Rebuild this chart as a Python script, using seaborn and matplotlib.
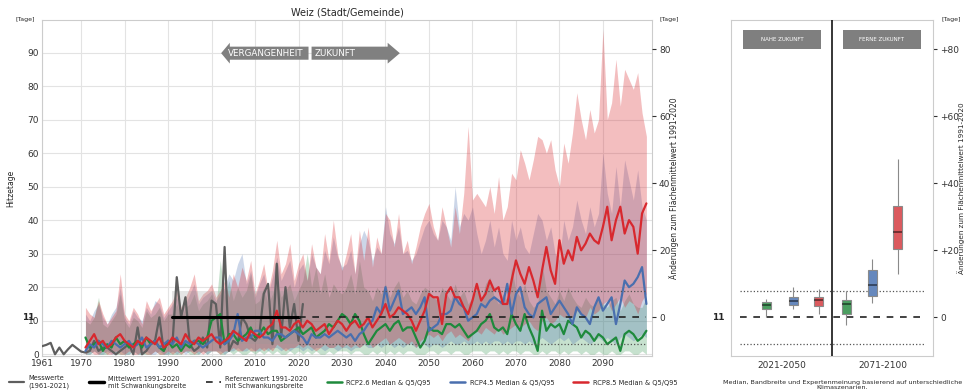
import numpy as np
import pandas as pd
import matplotlib
matplotlib.use('Agg')
from matplotlib import pyplot as plt
from matplotlib.lines import Line2D
from matplotlib.patches import FancyArrow, Rectangle
import matplotlib.transforms as mtransforms
import seaborn as sns

# ---- data -----------------------------------------------------------------
obs_years = list(range(1961, 2022))
obs = [2.4, 2.8, 3.4, 0, 2, 0, 1.5, 2.8, 1.8, 0.8,
       0.5, 1, 4, 1, 2, 2, 1, 0, 1, 2,
       3, 0, 8, 0, 1, 3, 4, 11, 1, 4,
       3, 23, 11, 17, 3, 1, 2, 5, 2, 16,
       15, 2, 32, 1, 4, 3, 11, 9, 5, 4,
       6, 18, 21, 3, 27, 5, 20, 8, 15, 4,
       15]

years = list(range(1971, 2101))

rcp26_med = [5, 2, 3, 4, 1, 3, 2, 5, 3, 4,
             2, 3, 4, 2, 5, 3, 4, 2, 1, 4,
             2, 3, 1, 3, 2, 4, 4, 3, 5, 10,
             11, 12, 3, 6, 6, 4, 5, 6, 8, 5,
             6, 8, 6, 7, 7, 4, 5, 6, 7, 8,
             6, 7, 8, 5, 6, 7, 9, 8, 10, 12,
             11, 9, 12, 10, 6, 3, 5, 7, 8, 9,
             7, 9, 10, 7, 8, 8, 5, 2, 4, 8,
             7, 7, 6, 9, 9, 8, 9, 7, 5, 6,
             7, 9, 10, 12, 8, 7, 8, 6, 12, 9,
             7, 12, 8, 5, 1, 13, 7, 9, 8, 9,
             6, 10, 9, 8, 5, 7, 6, 4, 6, 5,
             3, 4, 5, 1, 6, 7, 6, 4, 5, 7]
rcp26_q5 = [0, 0, 1, 0, 0, 0, 1, 0, 0, 0,
            0, 1, 0, 0, 0, 0, 1, 0, 0, 0,
            0, 0, 0, 1, 0, 0, 0, 1, 0, 1,
            1, 0, 0, 1, 0, 1, 0, 0, 1, 0,
            1, 0, 1, 0, 1, 0, 0, 1, 0, 1,
            0, 1, 0, 1, 0, 0, 1, 0, 1, 1,
            1, 0, 1, 1, 0, 0, 1, 0, 1, 0,
            1, 0, 1, 0, 1, 1, 0, 0, 0, 1,
            1, 0, 1, 1, 0, 1, 1, 0, 0, 1,
            1, 1, 0, 1, 1, 0, 1, 0, 1, 1,
            0, 1, 1, 0, 0, 1, 0, 1, 1, 0,
            1, 0, 1, 1, 0, 1, 0, 0, 1, 0,
            0, 1, 0, 0, 1, 1, 0, 0, 1, 0]
rcp26_q95 = [10, 9, 11, 17, 9, 8, 10, 12, 18, 10,
             8, 11, 10, 8, 13, 11, 12, 14, 10, 12,
             12, 15, 11, 14, 15, 18, 13, 15, 16, 18,
             14, 28, 17, 22, 16, 20, 17, 19, 24, 15,
             16, 20, 15, 18, 22, 17, 19, 21, 16, 19,
             22, 30, 20, 26, 18, 24, 17, 21, 19, 18,
             20, 24, 18, 28, 20, 19, 16, 20, 18, 21,
             17, 20, 22, 17, 19, 16, 15, 18, 20, 19,
             17, 16, 20, 18, 16, 21, 17, 19, 15, 17,
             19, 16, 21, 23, 17, 15, 18, 16, 26, 19,
             17, 21, 16, 14, 15, 27, 19, 17, 15, 19,
             16, 20, 17, 15, 14, 17, 15, 14, 17, 15,
             14, 16, 17, 13, 16, 18, 15, 14, 14, 17]

rcp45_med = [1, 3, 2, 4, 3, 2, 4, 3, 2, 3,
             4, 2, 3, 5, 2, 3, 4, 2, 3, 4,
             3, 5, 2, 4, 3, 4, 3, 2, 3, 4,
             5, 5, 3, 4, 6, 12, 4, 5, 5, 7,
             7, 5, 5, 4, 6, 6, 5, 6, 7, 6,
             5, 3, 6, 5, 5, 6, 5, 6, 7, 6,
             5, 6, 4, 6, 7, 9, 10, 14, 12, 20,
             13, 16, 19, 12, 13, 14, 12, 14, 17, 7,
             8, 9, 12, 12, 13, 17, 15, 14, 10, 11,
             12, 15, 14, 16, 17, 16, 15, 21, 12, 18,
             20, 14, 12, 11, 15, 16, 17, 12, 14, 16,
             14, 12, 9, 14, 12, 11, 9, 14, 17, 13,
             15, 17, 9, 15, 22, 20, 21, 23, 26, 15]
rcp45_q5 = [0, 0, 1, 0, 0, 1, 0, 0, 1, 0,
            0, 1, 0, 0, 1, 0, 0, 1, 0, 0,
            1, 0, 1, 0, 1, 1, 0, 1, 0, 1,
            1, 1, 0, 1, 1, 2, 1, 1, 2, 1,
            1, 2, 1, 2, 2, 1, 2, 1, 2, 2,
            1, 2, 1, 2, 2, 1, 2, 2, 1, 2,
            2, 1, 2, 2, 3, 2, 2, 3, 2, 3,
            3, 2, 3, 2, 3, 3, 2, 3, 3, 2,
            3, 3, 2, 3, 4, 3, 3, 4, 3, 3,
            4, 3, 4, 3, 4, 4, 3, 4, 3, 4,
            4, 3, 4, 3, 4, 5, 4, 3, 4, 5,
            4, 5, 3, 4, 5, 4, 3, 4, 5, 4,
            5, 4, 3, 5, 6, 5, 4, 5, 6, 5]
rcp45_q95 = [12, 10, 13, 15, 11, 9, 12, 14, 20, 11,
             9, 13, 11, 10, 14, 12, 16, 15, 11, 13,
             15, 17, 13, 15, 18, 21, 15, 17, 18, 19,
             16, 18, 20, 24, 22, 27, 30, 21, 25, 17,
             21, 24, 18, 23, 29, 22, 25, 28, 20, 25,
             27, 22, 30, 26, 24, 31, 27, 35, 29, 26,
             27, 31, 24, 33, 37, 34, 28, 32, 30, 44,
             36, 33, 38, 30, 31, 28, 30, 34, 38, 40,
             36, 34, 40, 38, 34, 50, 38, 42, 40, 44,
             36, 30, 34, 40, 32, 38, 30, 28, 40, 34,
             38, 32, 30, 36, 42, 40, 34, 38, 30, 28,
             40, 34, 38, 46, 40, 36, 44, 38, 42, 60,
             48, 42, 56, 44, 58, 52, 46, 55, 44, 40]

rcp85_med = [2, 4, 6, 3, 4, 2, 3, 5, 6, 4,
             3, 2, 4, 3, 5, 4, 3, 5, 2, 3,
             5, 4, 3, 6, 4, 3, 5, 4, 5, 6,
             4, 3, 4, 5, 7, 6, 5, 4, 7, 6,
             5, 6, 8, 9, 13, 8, 8, 7, 9, 10,
             8, 10, 9, 7, 8, 9, 6, 8, 10, 9,
             7, 9, 10, 8, 9, 11, 8, 10, 12, 15,
             11, 12, 14, 13, 12, 10, 7, 10, 13, 18,
             17, 17, 9, 18, 20, 17, 17, 14, 12, 16,
             21, 16, 18, 22, 19, 20, 15, 15, 22, 28,
             24, 21, 26, 22, 17, 25, 32, 25, 21, 34,
             27, 31, 28, 35, 31, 33, 36, 34, 33, 38,
             44, 34, 40, 44, 36, 40, 38, 30, 42, 45]
rcp85_q5 = [0, 1, 0, 0, 1, 0, 0, 1, 0, 0,
            1, 0, 0, 1, 0, 0, 1, 0, 0, 1,
            0, 1, 0, 1, 1, 0, 1, 0, 1, 1,
            1, 0, 1, 1, 2, 1, 1, 2, 1, 1,
            2, 1, 2, 1, 3, 2, 1, 2, 2, 3,
            2, 3, 2, 1, 2, 3, 2, 2, 3, 2,
            3, 2, 3, 2, 3, 4, 2, 3, 4, 5,
            3, 4, 5, 4, 3, 4, 2, 4, 5, 6,
            5, 6, 4, 6, 7, 5, 6, 5, 4, 6,
            7, 6, 8, 7, 6, 8, 6, 7, 8, 9,
            8, 9, 10, 8, 7, 10, 11, 9, 10, 12,
            11, 12, 11, 13, 12, 11, 14, 12, 13, 15,
            16, 13, 15, 17, 14, 16, 15, 12, 16, 18]
rcp85_q95 = [14, 12, 11, 16, 12, 9, 11, 13, 24, 12,
             10, 14, 12, 9, 16, 13, 15, 17, 12, 14,
             16, 19, 14, 17, 20, 24, 16, 18, 19, 21,
             17, 19, 22, 17, 24, 20, 26, 22, 28, 18,
             22, 27, 19, 25, 34, 24, 27, 33, 22, 27,
             30, 22, 33, 26, 24, 36, 28, 40, 30, 25,
             30, 36, 24, 37, 28, 38, 26, 35, 30, 42,
             40, 32, 42, 30, 34, 27, 32, 38, 42, 45,
             38, 34, 44, 38, 32, 44, 36, 48, 68, 46,
             48, 46, 44, 50, 42, 53, 40, 44, 54, 52,
             61, 57, 52, 58, 65, 64, 60, 64, 55, 50,
             63, 57, 66, 78, 70, 64, 73, 66, 70, 97,
             70, 75, 88, 74, 85, 82, 79, 84, 72, 65]

ref_value = 11          # Mittelwert 1991-2020
ref_low, ref_high = 3, 19

# boxplot summary (change vs. 1991-2020): whisker low, q1, median, q3, whisker high
box_period = ['2021-2050'] * 3 + ['2071-2100'] * 3
box_scen = ['RCP2.6', 'RCP4.5', 'RCP8.5'] * 2
box_stats = [[0.2, 2.4, 3.6, 4.6, 5.4],
             [2.4, 3.6, 4.8, 6.2, 9.2],
             [0.9, 3.4, 5.1, 6.1, 8.4],
             [-2.4, 0.9, 4.1, 5.2, 7.9],
             [4.4, 6.4, 9.6, 14.0, 17.3],
             [12.8, 20.5, 25.5, 33.2, 47.2]]

# ---- style ----------------------------------------------------------------
sns.set_style('whitegrid')
plt.rcParams['font.family'] = ['DejaVu Sans']

c_green, c_blue, c_red = '#1e8a3c', '#4a6fae', '#d8282e'
c_obs = '#5e5e5e'
box_pos = [-0.15, 0.115, 0.37, 0.64, 0.90, 1.15]
box_colors = {'RCP2.6': '#4b9e60', 'RCP4.5': '#6688bd', 'RCP8.5': '#db5a5e'}

fig = plt.figure(figsize=(9.67, 3.92), dpi=100)
ax = fig.add_axes([0.0434, 0.092, 0.6309, 0.857])
ax2 = fig.add_axes([0.756, 0.092, 0.2088, 0.857])

# ---- main chart -----------------------------------------------------------
for lo, hi, c, a in [(rcp26_q5, rcp26_q95, c_green, 0.25),
                     (rcp45_q5, rcp45_q95, c_blue, 0.28),
                     (rcp85_q5, rcp85_q95, c_red, 0.30)]:
    ax.fill_between(years, lo, hi, color=c, alpha=a, lw=0, zorder=1)

ax.fill_between([1991, 2020], ref_low, ref_high, color='#999999', alpha=0.25,
                lw=0, zorder=1)

sns.lineplot(x=obs_years, y=obs, color=c_obs, lw=1.6, ax=ax, zorder=3)
for med, c in [(rcp26_med, c_green), (rcp45_med, c_blue), (rcp85_med, c_red)]:
    sns.lineplot(x=years, y=med, color=c, lw=1.6, ax=ax, zorder=4)

ax.plot([1991, 2020], [ref_value, ref_value], color='black', lw=2.2, zorder=5)
ax.plot([2020, 2100], [ref_value, ref_value], color='#222222', lw=1.2,
        ls=(0, (4, 4)), zorder=5)
for v in (ref_low, ref_high):
    ax.plot([2020, 2100], [v, v], color='#555555', lw=0.9, ls=':', zorder=5)

ax.set_xlim(1961, 2101.3)
ax.set_ylim(-0.5, 99.7)
ax.set_xticks([1961] + list(range(1970, 2100, 10)))
ax.set_yticks(range(0, 100, 10))
ax.tick_params(labelsize=6.5, length=0, pad=2, colors='#333333')
ax.grid(color='#e3e3e3', lw=0.8)
for s in ax.spines.values():
    s.set_color('#cccccc')
    s.set_linewidth(0.8)
ax.set_xlabel('')
ax.set_ylabel('Hitzetage', fontsize=5.5, labelpad=9)
ax.set_title('Weiz (Stadt/Gemeinde)', fontsize=7, pad=3)

blend = mtransforms.blended_transform_factory(ax.transAxes, ax.transData)
ax.text(-0.012, ref_value, '11', transform=blend, ha='right', va='center',
        fontsize=6.5, fontweight='bold', zorder=6)
ax.text(-0.012, 1.0, '[Tage]', transform=ax.transAxes, ha='right', va='center',
        fontsize=4.5)

axr = ax.twinx()
axr.set_ylim(-0.5 - ref_value, 99.7 - ref_value)
axr.set_yticks(range(0, 81, 20))
axr.tick_params(labelsize=6.5, length=3, pad=2, colors='#333333')
axr.grid(False)
for s in axr.spines.values():
    s.set_visible(False)
axr.set_ylabel('Änderungen zum Flächenmittelwert 1991-2020', fontsize=5.5,
               labelpad=-1)
axr.text(1.012, 1.0, '[Tage]', transform=ax.transAxes, ha='left', va='center',
         fontsize=4.5)

# past / future arrows
ax.add_patch(FancyArrow(2022.3, 89.8, -20.1, 0, width=3.9, head_width=6.2,
                        head_length=2.0, length_includes_head=True,
                        color='#808080', lw=0, zorder=6))
ax.add_patch(FancyArrow(2023.0, 89.8, 20.3, 0, width=3.9, head_width=6.2,
                        head_length=2.8, length_includes_head=True,
                        color='#808080', lw=0, zorder=6))
ax.text(2012.4, 89.8, 'VERGANGENHEIT', color='white', fontsize=6.3,
        ha='center', va='center', zorder=7)
ax.text(2023.6, 89.8, 'ZUKUNFT', color='white', fontsize=6.3,
        ha='left', va='center', zorder=7)

# ---- right panel: boxplots --------------------------------------------------
rows = []
for p, s, st, x in zip(box_period, box_scen, box_stats, box_pos):
    for v in st:
        rows.append({'pos': x, 'scen': s, 'period': p, 'val': v})
df = pd.DataFrame(rows)

sns.boxplot(data=df, x='pos', y='val', hue='scen', native_scale=True,
            dodge=False, whis=(0, 100), width=0.35, palette=box_colors,
            saturation=1, linecolor='#8a8a8a', linewidth=0.8, showcaps=False,
            medianprops=dict(color='black', alpha=0.55, lw=1.2),
            legend=False, ax=ax2, zorder=3)

ax2.set_xlim(-0.5, 1.5)
ax2.set_ylim(-0.5 - ref_value, 99.7 - ref_value)
ax2.axvline(0.5, color='black', lw=1.1, zorder=4)
ax2.axhline(0, xmin=0.045, xmax=0.955, color='#222222', lw=1.2,
            ls=(0, (4, 4)), zorder=2)
for v in (ref_low - ref_value, ref_high - ref_value):
    ax2.axhline(v, xmin=0.045, xmax=0.955, color='#555555', lw=0.9, ls=':',
                zorder=2)
ax2.grid(False)
ax2.set_xticks([0, 1])
ax2.set_xticklabels(['2021-2050', '2071-2100'])
ax2.set_xlabel('')
ax2.yaxis.tick_right()
ax2.yaxis.set_label_position('right')
ax2.set_yticks(range(0, 81, 20))
ax2.set_yticklabels(['0', '+20', '+40', '+60', '+80'])
ax2.tick_params(axis='y', labelsize=6.5, length=3, pad=2, colors='#333333')
ax2.tick_params(axis='x', labelsize=6.5, length=0, pad=4, colors='#333333')
ax2.set_ylabel('Änderungen zum Flächenmittelwert 1991-2020', fontsize=5.2,
               labelpad=-1)
for s in ax2.spines.values():
    s.set_color('#cccccc')
    s.set_linewidth(0.8)

blend2 = mtransforms.blended_transform_factory(ax2.transAxes, ax2.transData)
ax2.text(-0.03, 0, '11', transform=blend2, ha='right', va='center',
         fontsize=6.5, fontweight='bold')
ax2.text(1.04, 1.0, '[Tage]', transform=ax2.transAxes, ha='left', va='center',
         fontsize=4.5)

for x0, x1, lab in [(0.059, 0.446, 'NAHE ZUKUNFT'), (0.554, 0.94, 'FERNE ZUKUNFT')]:
    ax2.add_patch(Rectangle((x0, 0.914), x1 - x0, 0.056, transform=ax2.transAxes,
                            color='#7f7f7f', lw=0, zorder=5))
    ax2.text((x0 + x1) / 2, 0.942, lab, transform=ax2.transAxes, color='white',
             fontsize=4, ha='center', va='center', zorder=6)

fig.text(0.871, 0.018, 'Median, Bandbreite und Expertenmeinung basierend auf '
         'unterschiedliche\nKlimaszenarien.', ha='center', va='center',
         fontsize=4.6, linespacing=1.1)

# ---- legend -----------------------------------------------------------------
handles = [Line2D([], [], color=c_obs, lw=1.6),
           Line2D([], [], color='black', lw=2.5),
           Line2D([], [], color='#222222', lw=1.2, ls=(0, (4, 4))),
           Line2D([], [], color=c_green, lw=1.8),
           Line2D([], [], color=c_blue, lw=1.8),
           Line2D([], [], color=c_red, lw=1.8)]
labels = ['Messwerte\n(1961-2021)',
          'Mittelwert 1991-2020\nmit Schwankungsbreite',
          'Referenzwert 1991-2020\nmit Schwankungsbreite',
          'RCP2.6 Median & Q5/Q95',
          'RCP4.5 Median & Q5/Q95',
          'RCP8.5 Median & Q5/Q95']
fig.legend(handles, labels, loc='center', bbox_to_anchor=(0.355, 0.025),
           ncol=6, frameon=False, fontsize=4.8, handlelength=2.2,
           columnspacing=2.9, handletextpad=0.7, labelspacing=0.2)

fig.savefig('out.png', dpi=100)
